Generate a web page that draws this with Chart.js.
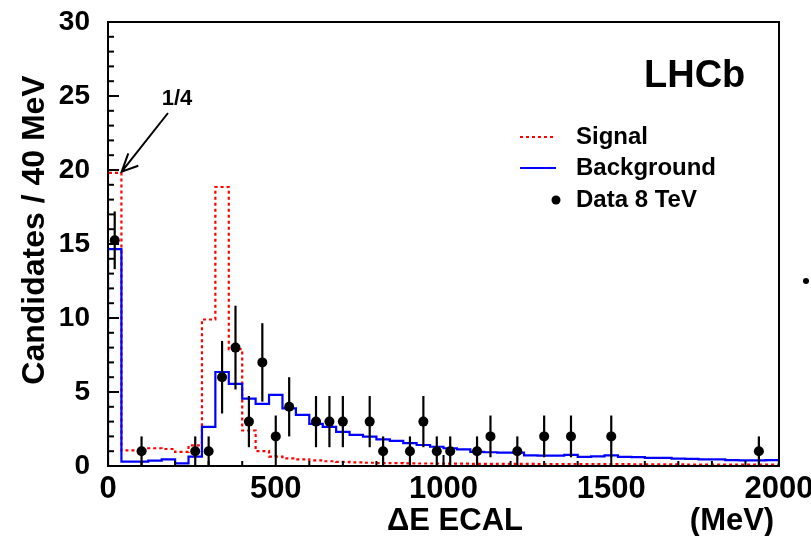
<!DOCTYPE html>
<html>
<head>
<meta charset="utf-8">
<script src="https://cdn.jsdelivr.net/npm/chart.js@4.4.1/dist/chart.umd.min.js"></script>
<style>
  html, body { margin: 0; padding: 0; background: #fff; }
  #wrap { width: 811px; height: 536px; }
</style>
</head>
<body>
<div id="wrap"><canvas id="c" width="811" height="536"></canvas></div>
<script>
// ---------- data ----------
const binEdges = [0,40,80,120,160,200,240,280,320,360,400,440,480,520,560,600,640,680,720,760,
  800,840,880,920,960,1000,1040,1080,1120,1160,1200,1240,1280,1320,1360,1400,1440,1480,1520,1560,
  1600,1640,1680,1720,1760,1800,1840,1880,1920,1960,2000];

const signalValues = [19.8,1.05,1.05,1.2,1.15,0.95,1.4,9.9,18.85,7.9,
  2.4,1.0,0.63,0.52,0.45,0.38,0.32,0.28,0.25,0.22,
  0.2,0.19,0.18,0.17,0.17,0.16,0.16,0.15,0.15,0.14,
  0.14,0.14,0.13,0.13,0.13,0.12,0.12,0.12,0.12,0.11,
  0.11,0.11,0.11,0.1,0.1,0.1,0.1,0.1,0.1,0.1];

const backgroundValues = [14.65,0.3,0.3,0.36,0.45,0.18,0.63,2.65,6.35,5.55,
  4.55,4.2,4.8,3.9,3.45,2.85,2.65,2.3,2.1,1.98,
  1.8,1.7,1.55,1.42,1.3,1.2,1.12,0.95,0.93,0.9,
  0.9,0.72,0.7,0.7,0.75,0.62,0.65,0.72,0.62,0.6,
  0.55,0.55,0.5,0.48,0.45,0.45,0.4,0.38,0.38,0.4];

const dataX = [20,100,260,300,340,380,420,460,500,540,620,660,700,780,820,900,940,980,1020,1100,1140,1220,1300,1380,1500,1940];
const dataY = [15.25,1,1,1,6,8,3,7,2,4,3,3,3,3,1,1,3,1,1,1,2,1,2,2,2,1];
const dataErr = [1.95,1,1,1,2.45,2.83,1.73,2.65,1.41,2,1.73,1.73,1.73,1.73,1,1,1.73,1,1,1,1.41,1,1.41,1.41,1.41,1];

const xTickValues = [0,500,1000,1500,2000];
const yTickValues = [0,5,10,15,20,25,30];
const seriesLabels = ['Signal','Background','Data 8 TeV'];

// ---------- helpers ----------
// points at bin right edges; 'after' stepping: vertical at previous x, then horizontal
function histPoints(values) {
  const pts = [{x: binEdges[0], y: 0}, {x: binEdges[0], y: values[0]}];
  for (let i = 0; i < values.length; i++) pts.push({x: binEdges[i + 1], y: values[i]});
  pts.push({x: binEdges[binEdges.length - 1], y: 0});
  return pts;
}
const FONT = '"Liberation Sans", Arial, Helvetica, sans-serif';

const decor = {
  id: 'decor',
  afterDatasetsDraw(chart) {
    const ctx = chart.ctx, xs = chart.scales.x, ys = chart.scales.y;
    ctx.save();
    ctx.strokeStyle = '#000';
    ctx.lineWidth = 2.2;
    for (let i = 0; i < dataX.length; i++) {
      const px = xs.getPixelForValue(dataX[i]);
      const lo = Math.max(0, dataY[i] - dataErr[i]);
      ctx.beginPath();
      ctx.moveTo(px, ys.getPixelForValue(lo));
      ctx.lineTo(px, ys.getPixelForValue(dataY[i] + dataErr[i]));
      ctx.stroke();
    }
    ctx.restore();
  },
  afterDraw(chart) {
    const ctx = chart.ctx, xs = chart.scales.x, ys = chart.scales.y, a = chart.chartArea;
    ctx.save();
    // frame
    ctx.strokeStyle = '#000';
    ctx.lineWidth = 2;
    ctx.strokeRect(a.left, a.top, a.right - a.left, a.bottom - a.top);
    // y ticks (inward)
    for (let v = ys.min; v <= ys.max; v += 1) {
      const py = ys.getPixelForValue(v);
      const len = (v % 5 === 0) ? 11 : 6;
      ctx.beginPath(); ctx.moveTo(a.left, py); ctx.lineTo(a.left + len, py); ctx.stroke();
    }
    // x ticks (inward)
    for (let v = xs.min; v <= xs.max; v += 100) {
      const px = xs.getPixelForValue(v);
      const len = (v % 500 === 0) ? 11 : 5;
      ctx.beginPath(); ctx.moveTo(px, a.bottom); ctx.lineTo(px, a.bottom - len); ctx.stroke();
    }
    // axis titles
    ctx.fillStyle = '#000';
    ctx.font = 'bold 31px ' + FONT;
    ctx.textBaseline = 'alphabetic';
    ctx.textAlign = 'center';
    ctx.fillText('\u0394E ECAL', 455, 530);
    ctx.fillText('(MeV)', 732, 530);
    ctx.save();
    ctx.translate(44, 230);
    ctx.rotate(-Math.PI / 2);
    ctx.font = 'bold 32px ' + FONT;
    ctx.fillText('Candidates / 40 MeV', 0, 0);
    ctx.restore();
    // LHCb
    ctx.font = 'bold 38px ' + FONT;
    ctx.textAlign = 'left';
    ctx.fillText('LHCb', 644, 87);
    // legend
    ctx.font = 'bold 24px ' + FONT;
    ctx.textBaseline = 'middle';
    ctx.fillText(seriesLabels[0], 576, 137);
    ctx.fillText(seriesLabels[1], 576, 168);
    ctx.fillText(seriesLabels[2], 576, 200);
    ctx.lineWidth = 2;
    ctx.strokeStyle = '#ff0000';
    ctx.setLineDash([3, 3]);
    ctx.beginPath(); ctx.moveTo(520, 137); ctx.lineTo(556, 137); ctx.stroke();
    ctx.setLineDash([]);
    ctx.strokeStyle = '#0000ff';
    ctx.beginPath(); ctx.moveTo(520, 168); ctx.lineTo(556, 168); ctx.stroke();
    ctx.fillStyle = '#000';
    ctx.beginPath(); ctx.arc(556, 200, 4.5, 0, Math.PI * 2); ctx.fill();
    // 1/4 annotation
    ctx.font = 'bold 22px ' + FONT;
    ctx.textAlign = 'center';
    ctx.fillText('1/4', 177, 99);
    ctx.strokeStyle = '#000';
    ctx.lineWidth = 2;
    ctx.beginPath();
    ctx.moveTo(168, 113); ctx.lineTo(121.7, 171.7);
    ctx.moveTo(128.3, 153.3); ctx.lineTo(121.7, 171.7); ctx.lineTo(138.3, 165.7);
    ctx.stroke();
    // stray bullet at right edge
    ctx.beginPath(); ctx.arc(806, 281, 3, 0, Math.PI * 2); ctx.fill();
    ctx.restore();
  }
};

new Chart(document.getElementById('c'), {
  type: 'scatter',
  data: {
    datasets: [
      {
        type: 'line', label: seriesLabels[0], data: histPoints(signalValues),
        stepped: 'after', borderColor: '#ff0000', borderWidth: 2.2, borderDash: [3, 3],
        pointRadius: 0, fill: false, order: 3
      },
      {
        type: 'line', label: seriesLabels[1], data: histPoints(backgroundValues),
        stepped: 'after', borderColor: '#0000ff', borderWidth: 2.2,
        pointRadius: 0, fill: false, order: 2
      },
      {
        type: 'scatter', label: seriesLabels[2],
        data: dataX.map((x, i) => ({x: x, y: dataY[i]})),
        pointRadius: 5, pointBackgroundColor: '#000', pointBorderColor: '#000', pointBorderWidth: 0,
        order: 1
      }
    ]
  },
  options: {
    responsive: false,
    animation: false,
    layout: { padding: { left: 0, top: 22, right: 32, bottom: 0 } },
    plugins: { legend: { display: false }, tooltip: { enabled: false } },
    scales: {
      x: {
        type: 'linear', min: 0, max: 2000,
        grid: { display: false, drawTicks: false },
        border: { display: false },
        afterBuildTicks: (s) => { s.ticks = xTickValues.map(v => ({value: v})); },
        afterFit: (s) => { s.height = 70; s.paddingLeft = 0; s.paddingRight = 0; },
        ticks: { color: '#000', font: { family: FONT, size: 31, weight: 'bold' }, padding: 5,
                 maxRotation: 0, autoSkip: false, callback: (v) => String(v) }
      },
      y: {
        type: 'linear', min: 0, max: 30,
        grid: { display: false, drawTicks: false },
        border: { display: false },
        afterBuildTicks: (s) => { s.ticks = yTickValues.map(v => ({value: v})); },
        afterFit: (s) => { s.width = 108; s.paddingTop = 0; s.paddingBottom = 0; },
        ticks: { color: '#000', font: { family: FONT, size: 28, weight: 'bold' }, padding: 18,
                 callback: (v) => String(v) }
      }
    }
  },
  plugins: [decor]
});
</script>
</body>
</html>
